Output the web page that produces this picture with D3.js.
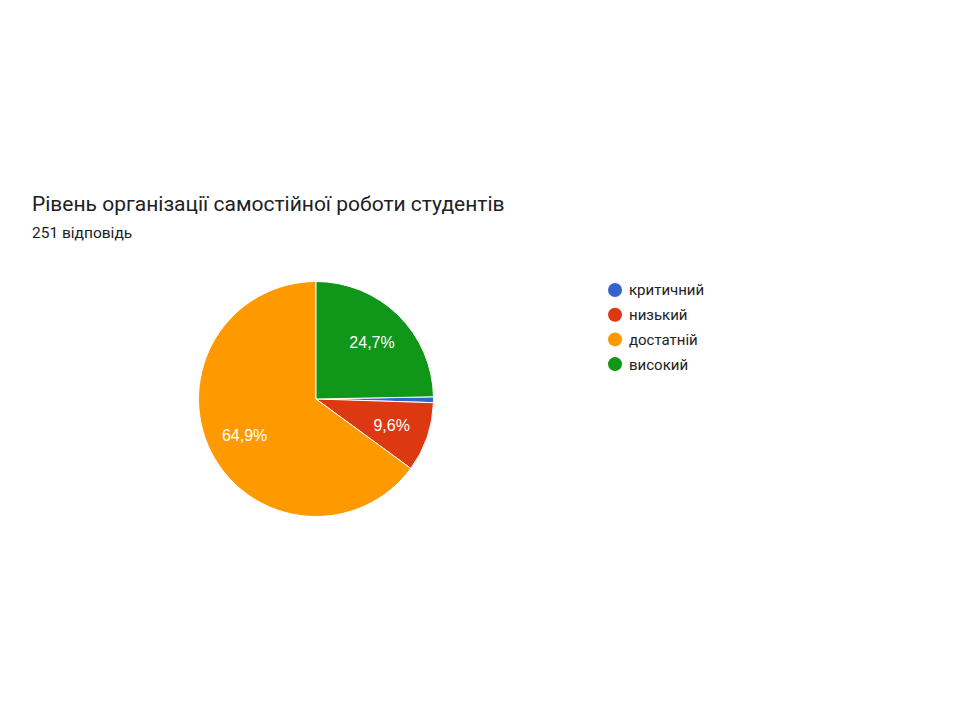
<!DOCTYPE html>
<html>
    <head>
        <meta charset="utf-8">
        <title>pie</title>
        <style>
            body {
                margin: 0;
                background: white;
                font-family: Roboto, Arial, sans-serif;
            }
            svg {
                width: 960px;
                height: 720px;
                display: block;
            }
        </style>
        <script src="https://d3js.org/d3.v7.min.js"></script>
    </head>
    <body>
        <svg id='main' width="960" height="720"></svg>
    <script>
        let categories = ['критичний', 'низький', 'достатній', 'високий'];
        let counts = [2, 24, 163, 62];
        let labels = ['0,8%', '9,6%', '64,9%', '24,7%'];
        let colors = ['#3366cc', '#dc3912', '#ff9900', '#109618'];

        let title = 'Рівень організації самостійної роботи студентів';
        let subtitle = '251 відповідь';

        let svg = d3.select('svg#main');

        svg.append('text')
            .attr('x', 32).attr('y', 211)
            .attr('font-size', 21)
            .attr('fill', '#202124')
            .text(title);
        svg.append('text')
            .attr('x', 32).attr('y', 238)
            .attr('font-size', 15.5)
            .attr('fill', '#202124')
            .text(subtitle);

        let cx = 316, cy = 399, r = 117.5;
        let total = d3.sum(counts);
        // last slice starts at 12 o'clock, so offset the start by its share
        let offset = 2 * Math.PI * counts[counts.length - 1] / total;

        let pie = d3.pie()
            .sort(null)
            .startAngle(offset)
            .endAngle(offset + 2 * Math.PI);
        let arcs = pie(counts);

        let arc = d3.arc().innerRadius(0).outerRadius(r);
        let labelArc = d3.arc().innerRadius(80).outerRadius(80);

        let g = svg.append('g')
            .attr('transform', 'translate(' + cx + ',' + cy + ')');

        g.selectAll('path')
            .data(arcs)
            .enter()
            .append('path')
                .attr('d', arc)
                .attr('fill', (d, i) => colors[i])
                .attr('stroke', 'white')
                .attr('stroke-width', 1);

        g.selectAll('text.lbl')
            .data(arcs.filter(d => (d.endAngle - d.startAngle) > 0.3))
            .enter()
            .append('text')
                .attr('class', 'lbl')
                .attr('transform', d => 'translate(' + labelArc.centroid(d) + ')')
                .attr('text-anchor', 'middle')
                .attr('dy', '0.36em')
                .attr('font-family', '"Liberation Sans", Arial, sans-serif')
                .attr('font-size', 16)
                .attr('fill', 'white')
                .text(d => labels[d.index]);

        let legend = svg.append('g')
            .attr('transform', 'translate(615, 290)');
        let rows = legend.selectAll('g')
            .data(categories)
            .enter()
            .append('g')
            .attr('transform', (d, i) => 'translate(0,' + (i * 24.7) + ')');
        rows.append('circle')
            .attr('r', 7)
            .attr('fill', (d, i) => colors[i]);
        rows.append('text')
            .attr('x', 14)
            .attr('dy', '0.36em')
            .attr('font-size', 15)
            .attr('fill', '#222')
            .text(d => d);
    </script>
    </body>
</html>
